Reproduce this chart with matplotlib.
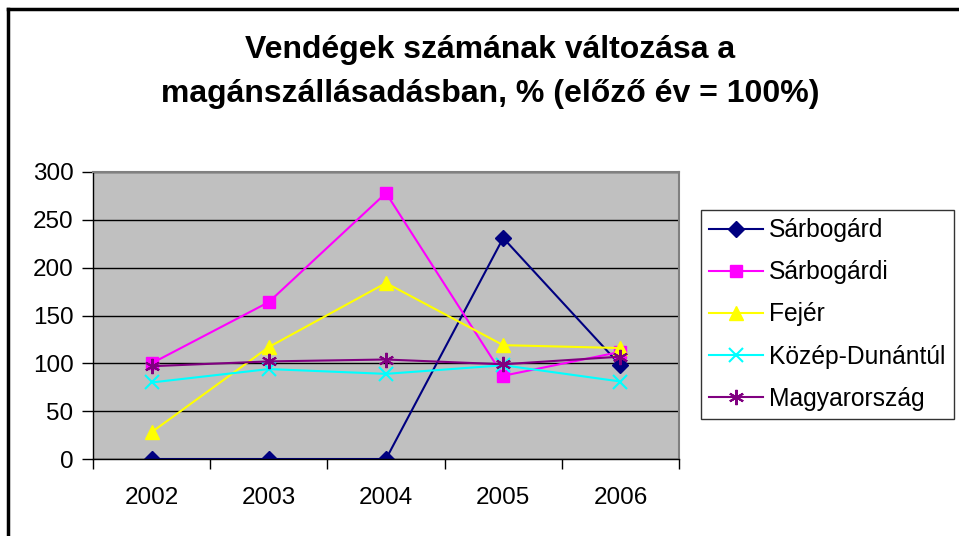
import numpy as np
import matplotlib
matplotlib.use("Agg")
import matplotlib.pyplot as plt
from matplotlib.lines import Line2D

plt.rcParams["font.family"] = ["Liberation Sans", "DejaVu Sans"]

years = ["2002", "2003", "2004", "2005", "2006"]
sarbogard = [0, 0, 0, 231, 98]
sarbogardi = [100, 164, 278, 87, 112]
fejer = [28, 117, 184, 119, 116]
kozep_dunantul = [80, 94, 89, 98, 81]
magyarorszag = [97, 102, 104, 99, 107]

series = [
    ("Sárbogárd", sarbogard, "#000080", "D", 8),
    ("Sárbogárdi", sarbogardi, "#FF00FF", "s", 8),
    ("Fejér", fejer, "#FFFF00", "^", 10),
    ("Közép-Dunántúl", kozep_dunantul, "#00FFFF", "x", 10),
    ("Magyarország", magyarorszag, "#800080", (6, 2, 0), 11),
]

W, H = 959, 536
fig = plt.figure(figsize=(W / 100, H / 100), dpi=100)
ax = fig.add_axes([93 / W, 1 - 459 / H, 586 / W, 287 / H])
ax.set_facecolor("#C0C0C0")

x = np.arange(len(years))
for name, vals, col, mk, ms in series:
    ax.plot(x, vals, color=col, marker=mk, markersize=ms, linewidth=1.5,
            markeredgewidth=1.5 if mk in ("x", (6, 2, 0)) else 1,
            label=name)

ax.set_xlim(-0.5, len(years) - 0.5)
ax.set_ylim(0, 300)
ax.set_yticks(range(0, 301, 50))
ax.yaxis.grid(True, color="black", linewidth=1)
ax.set_axisbelow(True)

ax.set_xticks(x)
ax.set_xticklabels(years)
ax.set_xticks(np.arange(-0.5, len(years), 1), minor=True)
ax.tick_params(axis="x", which="major", length=0, pad=20, labelsize=17.5)
ax.tick_params(axis="x", which="minor", length=7, width=1, direction="out")
ax.tick_params(axis="y", length=8, width=1, direction="out", pad=6, labelsize=17.5)

for side in ("top", "right"):
    ax.spines[side].set_color("#808080")
    ax.spines[side].set_linewidth(1.5)
for side in ("left", "bottom"):
    ax.spines[side].set_color("black")
    ax.spines[side].set_linewidth(1)

fig.text(490 / W, 1 - 50 / H, "Vendégek számának változása a",
         ha="center", va="center", fontsize=23, fontweight="bold")
fig.text(490 / W, 1 - 94 / H, "magánszállásadásban, % (előző év = 100%)",
         ha="center", va="center", fontsize=23, fontweight="bold")

leg = fig.legend(loc="upper left", bbox_to_anchor=(701 / W, 1 - 210 / H),
                 fontsize=17.7, frameon=True, fancybox=False, handlelength=2.2,
                 handletextpad=0.25, labelspacing=0.74, borderpad=0.33,
                 borderaxespad=0)
leg.get_frame().set_edgecolor("black")
leg.get_frame().set_linewidth(1)

# chart border (left and top edges visible)
fig.add_artist(Line2D([8 / W, 8 / W], [0, 1 - 9 / H], color="black",
                      linewidth=2.5, transform=fig.transFigure))
fig.add_artist(Line2D([8 / W, 1], [1 - 9 / H, 1 - 9 / H], color="black",
                      linewidth=2.5, transform=fig.transFigure))

fig.savefig("out.png", dpi=100)
